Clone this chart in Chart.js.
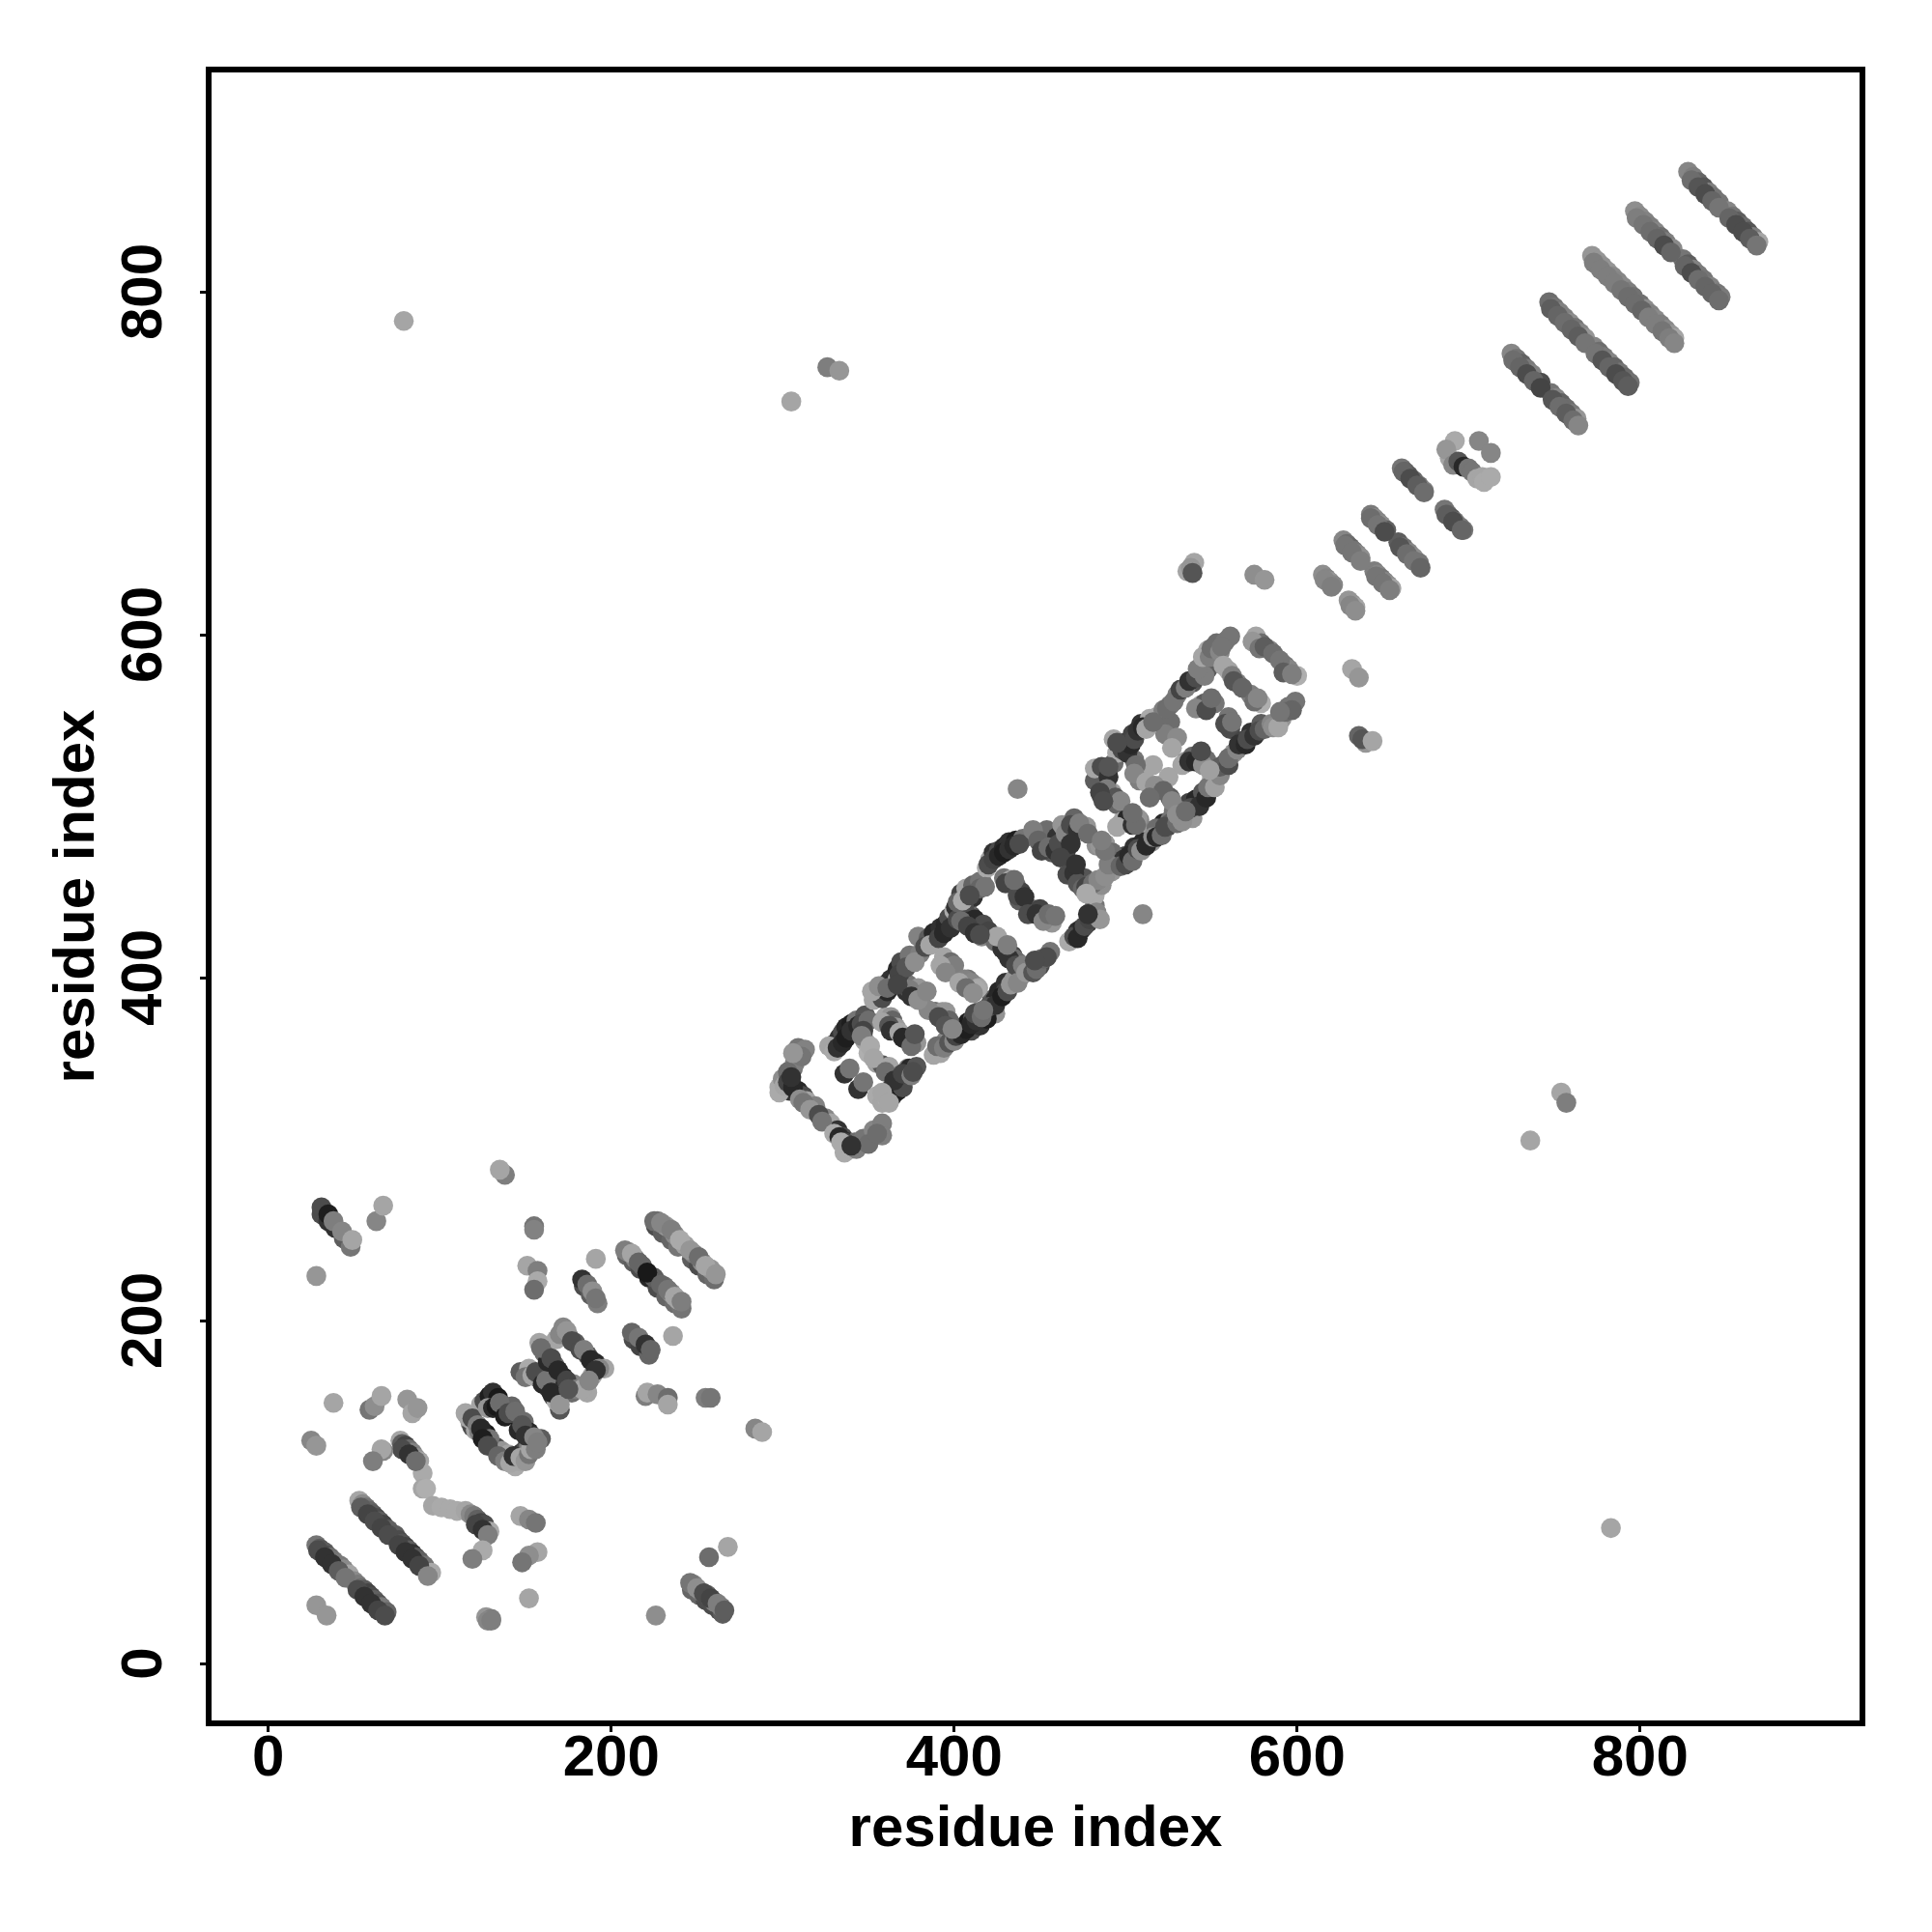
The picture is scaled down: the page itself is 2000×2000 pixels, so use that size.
<!DOCTYPE html>
<html><head><meta charset="utf-8">
<script src="https://cdn.jsdelivr.net/npm/chart.js@4"></script>
<style>html,body{margin:0;padding:0;background:#fff}canvas{display:block}</style>
</head><body><canvas id="c" width="2000" height="2000"></canvas>
<script>
const tickValues = [0, 200, 400, 600, 800];
const axisTitle = "residue index";

const strandX = [28,30,31,33,34,36,38,40,42,44,47,50,52,54,56,58,60,62,64,66,69, 53,55,57,59,61,63,65,67,70,74,76,78,80,82,84,86,88,91,95, 77,78,80,82,84,86,88,90,90,92,96,101,106,110,115,118,120,122,124,126,129];
const strandY = [69,67,66,65,63,62,60,58,57,55,52,48,46,44,43,41,39,37,35,33,30, 95,93,91,89,87,85,83,81,78,75,72,70,68,66,64,62,60,57,53, 130,128,127,125,123,120,118,111,102,102,92,91,90,89,89,87,86,84,82,81,77];
const strandScore = [110,80,70,80,60,100,110,115,115,135,165,135,115,100,80,50,60,85,70,115,90, 165,135,110,90,80,60,80,50,85,80,60,70,50,80,40,70,85,110,170, 165,80,50,100,125,145,165,170,165,175,165,170,170,170,165,135,115,85,50,60,170];

const strandEdgeX = [29,33,37,41,45,52,56,60,64,68, 54,58,62,66,70,76,80,84,88,93, 78,82,86,121,125,128, 209,213,217,222,227,232,237,241, 226,230,235,239,247,251,256,260, 184,188,192,213,217,222, 31,35,39,44,48, 247,251,255,259,263,265, 248,252,256,260,264, 210,214,218,225,231,235,239, 227,232,237,243,248,253,258];
const strandEdgeY = [66,62,58,54,50,43,39,35,31,28, 91,87,83,79,75,69,65,61,57,51, 125,122,118,81,78,75, 238,234,230,225,219,214,210,207, 255,251,247,243,236,232,227,224, 220,215,210,189,185,180, 262,258,254,248,243, 43,40,37,34,31,29, 46,42,40,36,33, 240,236,232,225,220,216,212, 258,255,250,244,239,234,230];
const strandEdgeScore = [60,40,40,80,110,60,40,40,50,60, 80,50,60,50,60,50,40,40,50,130, 60,40,100,50,40,120, 90,80,60,30,60,90,100,110, 60,80,90,110,80,60,90,100, 60,80,120,60,50,90, 60,40,40,80,110, 90,90,60,60,60,80, 130,110,90,125,110, 150,125,90,80,110,140,165, 120,150,135,160,125,135,150];

const scatterX = [67,66,61,125,119,28,34,157,152,148,152,127,130,25,28,38,59,62,66,81,84,87,147,152,156,31,35,38,43,49,63,67,28,138,135,246,250,254,258,262,266,257,268,226,128,130,284,288,155,155,183,186,189,191,191,151,157,157,155,208,212,216,221,229,233,237,241,225,229,235,240,246,251,255,261,212,216,220,223,236,220,221,227,233,233,255,258];
const scatterY = [124,125,118,66,61,34,28,65,63,59,38,27,26,130,127,152,148,150,156,154,146,149,86,84,82,266,262,258,252,247,258,267,226,285,288,47,44,41,38,35,31,62,68,28,25,25,137,135,255,253,224,221,217,213,236,232,229,223,218,241,239,234,228,221,218,214,211,258,257,253,247,241,237,232,227,193,190,186,183,191,156,158,157,155,151,155,155];
const scatterScore = [130,165,120,170,120,150,150,165,140,110,165,150,120,130,150,165,110,140,165,150,165,150,165,130,110,60,20,120,130,165,130,165,150,120,165,110,140,60,50,120,80,100,165,140,130,120,130,165,110,125,40,100,140,110,165,165,120,170,100,120,165,90,15,90,110,165,120,100,130,120,170,150,100,165,150,90,110,40,90,165,120,165,130,100,165,120,110];

const barrelFillX = [117,119,122,124,129,125,128,134,138,141,143,147,150,152,153,156,128,131,133,135,138,140,144,148,150,155,157, 150,154,156,160,162,165,170,163,159,165,169,174,180,183,175,170,174,177,182,184,188,193,191,187];
const barrelFillY = [143,143,139,137,131,131,127,121,118,117,121,120,118,122,125,125,149,149,150,152,144,146,147,139,133,132,129, 167,168,170,163,165,158,151,176,184,178,171,165,160,160,160,192,194,188,183,183,177,172,171,165];
const barrelFillScore = [165,60,120,30,110,20,60,90,120,165,40,165,150,110,165,120,150,30,15,100,20,60,100,70,40,130,120, 110,165,60,30,110,30,150,30,100,60,30,50,120,165,70,130,150,60,60,120,30,130,40,130];

const barrelX = [115,118,119,121,123,127,131,133,136,140,142,144,146,148,150,152,155,159,124,126,129,131,134,137,139,142,149,146,152, 170,147,152,158,163,166,168,158,161,167,172,178,177,186,168,172,175,179,186,191,189,196];
const barrelY = [146,140,138,136,135,134,127,126,124,122,118,115,118,123,125,127,129,131,151,153,156,158,155,148,149,150,141,136,135, 148,170,172,166,161,156,153,187,181,174,167,163,158,158,189,196,191,187,180,175,168,172];
const barrelScore = [165,110,60,165,120,15,60,60,150,165,60,170,165,30,60,120,165,80,165,60,20,40,15,15,20,90,100,30,30, 70,80,170,100,70,50,175,165,100,90,30,130,100,165,165,130,100,80,70,30,165,165];

const lowFillX = [298,301,303,303,306,305,310,312,316,321,323,330,333,336,334,340,343,350,355,340,311,306, 327,330,332,335,337,340,344,346,350,347, 346,351,353,360, 355,358,361,364,367,370,365,370,375,376,358,362, 358,362,363,368,370,375,377, 388,392,390,394,397,400,401,404,407,410,413,412,416,417, 385,391,395,399,352,356,361,367,375,379,384];
const lowFillY = [333,337,345,339,336,342,329,327,323,320,316,309,307,304,304,300,300,303,309,302,354,356, 360,357,359,362,365,369,372,373,375,369, 366,360,353,345, 331,327,329,331,334,336,340,344,343,345,333,327, 374,372,369,368,365,360,367, 355,356,360,359,362,363,366,367,370,373,375,379,377,381, 381,377,372,370,392,395,394,396,389,387,392];
const lowFillScore = [170,165,100,50,30,40,140,110,150,60,110,170,30,50,170,170,120,100,100,40,110,150, 165,170,40,30,20,40,30,60,100,50, 120,170,165,100, 170,165,170,30,20,60,40,50,120,60,165,165, 165,70,40,165,30,100,70, 165,165,100,120,70,130,50,30,20,30,40,60,100,110, 130,60,70,130,165,140,100,50,40,140,130];

const upperBandFillX = [353,358,361,364,367,368,372,377,383,386,391,394,398,402,402,405,409,404,408,412,415,392,395,403,407,411];
const upperBandFillY = [387,388,392,396,399,402,406,409,418,419,423,426,429,434,444,445,448,433,430,426,425,407,403,397,394,391];
const upperBandFillScore = [165,60,30,30,165,50,70,140,60,165,50,30,40,60,90,170,60,100,50,40,60,165,130,165,100,140];

const upperBandX = [355,357,360,363,367,369,374,380,379,385,388,392,395,397,400,401,404,407,411,415, 406,410,414,419,428,430,435,438,441, 394,398,400,406,410,414, 372,373,379,381,389,395];
const upperBandY = [390,393,396,399,405,409,413,414,424,423,426,429,431,435,439,441,449,452,454,456, 439,435,431,427,420,415,411,407,405, 412,409,407,399,397,394, 392,396,394,390,380,380];
const upperBandScore = [165,90,130,40,30,60,110,120,125,80,30,40,30,60,170,40,50,165,90,110, 130,80,30,165,165,50,100,130,150, 165,100,120,125,130,165, 40,110,150,90,110,150];

const midFillX = [419,420,423,426,429,432,435,438, 430,437,441,435,443,448,452,455,459, 408,411,415,418,406,409,412,417,416,420, 424,428,432,436,440,425,431, 415,419,420,424,428,431,433,437,442,446,448,452,454,447, 467,470,472,475,476,479,483,485,478, 446,449,451,455,459,461,465,468,472,473,478,468,462, 466,470,472,475,477,481,484,488,477,490,471, 488,486, 497,500,502,504,507,509,512,516,518,521,523,530,533,530,535,504];
const midFillY = [464,466,469,471,473,475,477,478, 455,448,447,457,437,437,433,437,436, 444,447,452,453,440,433,434,431,424,427, 421,417,411,407,407,424,419, 372,376,383,384,389,392,396,397,403,403,405,411,412,410, 421,424,423,429,430,434,438,434,437, 486,480,474,476,474,478,484,489,486,490,484,478,470, 460,461,455,452,453,455,457,459,449,466,466, 474,480, 465,466,471,468,475,474,477,482,482,483,488,490,491,495,497,496];
const midFillScore = [170,60,50,30,20,40,30,60, 50,60,40,100,60,40,130,100,110, 100,40,90,110,60,40,30,60,130,50, 100,40,40,60,120,165,120, 40,20,70,40,20,60,150,130,150,70,100,90,60,60, 170,60,30,30,60,50,130,150,40, 120,90,50,100,40,60,130,60,40,120,100,40,50, 60,40,70,90,50,100,130,140,170,120,40, 110,120, 90,60,30,100,60,140,30,140,30,100,60,100,140,140,100,100];

const highFillX = [495,498,501,503,505,507,510,512,516,495, 524,528,532,535,537,541,546,542, 545,549,550,555,556, 482,482,486,490,490,489,494,497,485,487, 538,543,547,548,552,555,555,560,560,565,566,570,571,575,578,581,585, 510,515,518,520,524,526,530,533, 574,578,581,586,590,592,597, 557,562,563,568,575,577, 586,589,593,597,590, 533,537,541,545,549,544, 506,505,512,541,547,550,558,562, 517,522,527,514, 495,504,506];
const highFillY = [531,533,531,536,539,544,546,545,549,537, 557,561,568,569,573,575,576,580, 587,587,592,590,593, 515,522,523,517,523,510,505,503,508,503, 499,500,505,511,511,518,523,524,528,533,536,536,539,541,544,545,548, 479,479,487,483,488,490,495,497, 596,592,593,589,585,578,577, 582,576,573,569,561,563, 546,546,555,556,555, 524,526,526,524,521,532, 524,519,514,557,556,563,548,549, 512,509,503,505, 488,489,489];
const highFillScore = [170,60,40,30,60,40,30,165,100,60, 100,110,50,120,40,60,120,120, 165,120,100,130,110, 80,165,60,40,70,120,70,130,50,60, 60,40,30,110,160,130,80,60,100,130,40,30,60,40,60,90,130, 30,150,100,50,60,80,150,140, 150,110,80,100,110,80,120, 165,120,70,90,100,130, 140,165,100,90,110, 165,40,30,140,160,60, 100,130,165,130,60,100,60,110, 140,90,130,100, 165,40,100];

const solenoidLowX = [336,298,300,304,306,307,309,313,309,312,314,319,325,328,332,335,338,342,347,353,358,358, 329,331,333,335,337,340,343,348, 348,350,355,358,362, 336,339,344,347, 359,360,363,366,369,372,373,374,378, 360,363,364,366,372,374,378, 390,391,395,398,402,405,408,411,414,424, 389,393,397,381,374,413,424,430];
const solenoidLowY = [298,336,341,334,347,350,359,358,334,331,328,325,318,315,311,307,304,304,306,311,315,308, 359,362,365,368,371,373,375,378, 363,356,350,349,348, 344,347,335,339, 330,333,335,337,339,342,347,347,348, 377,377,375,371,364,365,362, 357,360,363,366,369,371,374,376,380,379, 380,380,375,390,393,393,387,392];
const solenoidLowScore = [170,170,140,40,110,120,110,125,30,60,165,125,130,165,40,60,30,100,110,130,120,120, 170,70,40,60,30,20,110,70, 165,175,160,70,165, 40,110,40,110, 170,30,60,40,120,20,120,30,70, 165,150,90,155,70,60,150, 165,110,130,150,80,30,20,70,115,145, 100,150,90,100,120,170,30,50];

const solenoidMidX = [421,423,426,429,432,436,440, 429,433,436,439,438,445,450,453,457, 409,412,416,410,414,419, 427,430,434,437,443, 408,413,410, 422,426,430,435,439,445,450,451,456, 469,472,474,478,482,482, 450,452,454,457,460,465,463,477,470, 469,473,476,480,482,486,492, 485,488,492,491, 499,505,510,514,520,526,539,501,507];
const solenoidMidY = [469,473,474,476,479,480,481, 458,457,454,450,445,440,440,436,432, 449,452,456,436,431,428, 419,415,413,409,405, 399,395,369, 387,392,397,399,401,407,407,411,415, 423,427,428,432,442,436, 483,478,486,473,482,473,489,488,493, 463,459,458,451,448,454,462, 477,478,473,468, 469,473,478,481,485,492,493,493,493];
const solenoidMidScore = [165,40,60,30,40,20,110, 110,165,100,50,80,110,50,110,150, 130,150,115,70,40,165, 150,50,50,110,150, 110,165,60, 80,30,40,150,150,165,60,110,110, 165,40,30,40,110,165, 110,165,100,70,40,50,150,150,90, 30,110,70,165,170,140,150, 150,150,100,100, 40,40,170,160,60,110,150,30,150];

const solenoidHighX = [548,553,558,561, 526,530,539,544,548, 493,497,500,504,509,514,518,522, 526,523,530,527, 493,488,484,492,495,486, 505,508,511,516, 561,544,546,552,560, 576,579,584,593,595,600, 560,565,573,579, 588,591,595,599, 537,541,545,550,553,558,563,568,573,579, 535,539,544,547, 520,525,516,526, 500,505,512,516,522,528, 483,488,492,498,501,508];
const solenoidHighY = [591,595,596,599, 559,565,572,578,580, 539,534,537,542,548,551,552,556, 549,542,540,534, 525,521,519,508,501,506, 527,515,520,524, 545,559,560,560,552, 599,595,591,582,580,576, 579,572,565,560, 549,551,558,561, 502,504,508,515,521,525,531,538,543,548, 526,529,529,527, 512,517,508,505, 471,476,483,486,490,497, 477,478,473,491,492,492];
const solenoidHighScore = [170,100,110,110, 120,120,70,100,80, 165,150,30,50,40,170,170,120, 100,120,135,165, 100,40,70,160,90,70, 110,120,165,165, 60,160,80,110,110, 165,100,130,110,130,175, 165,120,120,175, 165,150,110,110, 50,30,70,170,100,70,150,50,40,80, 150,90,40,100, 165,165,140,80, 50,40,165,150,30,110, 140,165,90,165,30,130];

const hairpinEdgeX = [830,834,838,842,846,852,856,860,864,868, 798,802,806,810,814,818,826,830,834,838,842,846, 773,777,781,785,789,793,797,801,805,809,813,817,820, 748,752,756,760,764,768,774,778,782,786,790,793, 726,730,734,738,742,749,753,757,761,764, 662,666,670,674,687,691,696, 643,647,651,660,664,668,672, 628,632,637,646,650,654, 616,620,631,634];
const hairpinEdgeY = [865,861,857,853,849,843,839,835,831,827, 843,839,835,831,827,823,815,811,807,803,799,795, 817,813,809,805,801,797,793,789,785,781,777,773,770, 790,786,782,778,774,770,764,760,756,752,748,745, 760,756,752,748,744,737,733,729,725,722, 695,691,687,683,670,666,661, 668,664,660,651,647,643,639, 652,648,643,634,630,626, 632,628,617,614];
const hairpinEdgeScore = [100,70,60,90,110,90,60,60,80,110, 120,110,100,90,60,90,90,60,100,90,90,100, 120,120,120,120,110,100,100,90,120,120,110,120,130, 80,90,100,90,80,110,110,70,90,60,70,80, 100,90,60,90,50,70,100,80,100,130, 90,60,80,100,80,60,90, 100,110,60,70,100,110,90, 110,110,120,110,110,120, 130,120,130,140];

const hairpinX = [828,831,834,837,840,843,846,851,854,857,860,863,866,869, 797,800,803,806,809,812,815,819,825,828,831,834,837,841,845,847, 772,775,778,781,784,787,790,793,796,800,803,806,809,812,815,818,820, 747,750,753,756,759,762,765,768,773,776,779,782,785,788,791,794, 725,728,731,734,737,742,748,751,754,757,760,763, 661,663,665,668,671,674,686,688,690,692,695,697, 643,645,647,649,652,659,662,665,668,671, 627,629,631,633,635,637,645,647,649,651,653,655, 615,617,619,621,630,632,634];
const hairpinY = [870,867,864,861,858,855,852,847,844,841,838,835,832,829, 847,844,841,838,835,832,829,825,819,816,813,810,807,803,799,797, 821,818,815,812,809,806,803,800,797,793,790,787,784,781,778,775,773, 794,791,788,785,782,779,776,773,768,765,762,759,756,753,750,747, 764,761,758,755,752,747,741,738,735,732,729,726, 697,695,693,690,687,684,673,670,668,666,663,661, 670,668,666,664,661,654,651,648,645,642, 655,653,651,649,647,645,637,635,633,631,629,627, 635,633,631,629,620,618,616];
const hairpinScore = [130,120,90,70,120,110,110,130,110,80,100,70,120,165, 140,135,125,120,130,100,120,135,110,80,125,115,110,125,110,115, 150,150,145,150,135,130,135,120,105,105,140,125,135,120,135,150,165, 100,110,125,125,140,110,130,150,130,100,115,130,90,110,95,105, 130,110,85,115,125,60,110,130,85,100,115,150, 110,90,75,95,110,125,110,100,75,115,115,110, 115,140,130,140,85,80,105,130,140,110, 130,100,90,110,130,140,120,130,110,130,140,165, 140,130,150,130,150,150,165];

const distantX = [79,783,305,326,333,736,754,757,540,536,538,539,575,581,632,636,636,640,638,644,437,510,692,689,687,691,694,697,700,702,705,708,709,713,706,713];
const distantY = [783,79,736,756,754,305,333,327,642,637,639,636,635,632,580,575,541,537,539,538,510,437,713,703,708,699,701,698,697,695,691,692,689,692,713,706];
const distantScore = [165,165,165,120,150,165,165,120,165,165,150,70,140,150,165,150,90,150,70,165,130,130,170,165,150,130,70,30,110,110,165,165,170,170,130,130];

const gray = v => {
  const g = v <= 40 ? v + 10 : v < 150 ? Math.round(60 + (v - 40) * 0.82) : v;
  return `rgb(${g},${g},${g})`;
};
function layer(label, xs, ys, score) {
  return {
    label,
    data: xs.map((x, i) => ({ x, y: ys[i] })),
    backgroundColor: score.map(gray),
    borderWidth: 0,
    pointRadius: 10.3,
    pointHoverRadius: 10.3,
    showLine: false
  };
}
const frame = {
  id: "frame",
  afterDraw(chart) {
    const { ctx, chartArea: a } = chart;
    ctx.save();
    ctx.strokeStyle = "#000";
    ctx.lineWidth = 6;
    ctx.lineJoin = "miter";
    ctx.strokeRect(a.left, a.top, a.right - a.left, a.bottom - a.top);
    ctx.restore();
  }
};
const font = { family: "'Liberation Sans', Arial, sans-serif", size: 60, weight: "bold" };
const commonGrid = { display: true, drawOnChartArea: false, drawTicks: true, tickLength: 9, tickWidth: 3, tickColor: "#000" };

new Chart(document.getElementById("c"), {
  type: "scatter",
  data: { datasets: [
    layer("scattered", scatterX, scatterY, scatterScore),
    layer("strand edge", strandEdgeX, strandEdgeY, strandEdgeScore),
    layer("strands", strandX, strandY, strandScore),
    layer("barrel fill", barrelFillX, barrelFillY, barrelFillScore),
    layer("barrels", barrelX, barrelY, barrelScore),
    layer("low fill", lowFillX, lowFillY, lowFillScore),
    layer("upper band fill", upperBandFillX, upperBandFillY, upperBandFillScore),
    layer("mid fill", midFillX, midFillY, midFillScore),
    layer("high fill", highFillX, highFillY, highFillScore),
    layer("solenoid low", solenoidLowX, solenoidLowY, solenoidLowScore),
    layer("upper band", upperBandX, upperBandY, upperBandScore),
    layer("solenoid mid", solenoidMidX, solenoidMidY, solenoidMidScore),
    layer("solenoid high", solenoidHighX, solenoidHighY, solenoidHighScore),
    layer("hairpin edge", hairpinEdgeX, hairpinEdgeY, hairpinEdgeScore),
    layer("hairpins", hairpinX, hairpinY, hairpinScore),
    layer("distant", distantX, distantY, distantScore)
  ] },
  options: {
    responsive: false,
    animation: false,
    devicePixelRatio: 1,
    layout: { padding: { top: 72, right: 72, left: 0, bottom: 0 } },
    plugins: { legend: { display: false }, tooltip: { enabled: false } },
    scales: {
      x: {
        type: "linear", min: -34.8, max: 929.7,
        afterBuildTicks(s) { s.ticks = tickValues.map(value => ({ value })); },
        afterFit(s) { s.height = 216; },
        grid: commonGrid,
        border: { display: false },
        ticks: { font, color: "#000", padding: -8, maxRotation: 0, minRotation: 0, autoSkip: false },
        title: { display: true, text: axisTitle, font, color: "#000", padding: { top: 0, bottom: 70 } }
      },
      y: {
        type: "linear", min: -34.9, max: 929.6,
        afterBuildTicks(s) { s.ticks = tickValues.map(value => ({ value })); },
        afterFit(s) { s.width = 216; },
        grid: commonGrid,
        border: { display: false },
        ticks: { font, color: "#000", padding: 6, minRotation: 90, maxRotation: 90, autoSkip: false, crossAlign: "center" },
        title: { display: true, text: axisTitle, font, color: "#000", padding: { top: 44, bottom: 0 } }
      }
    }
  },
  plugins: [frame]
});
</script></body></html>
